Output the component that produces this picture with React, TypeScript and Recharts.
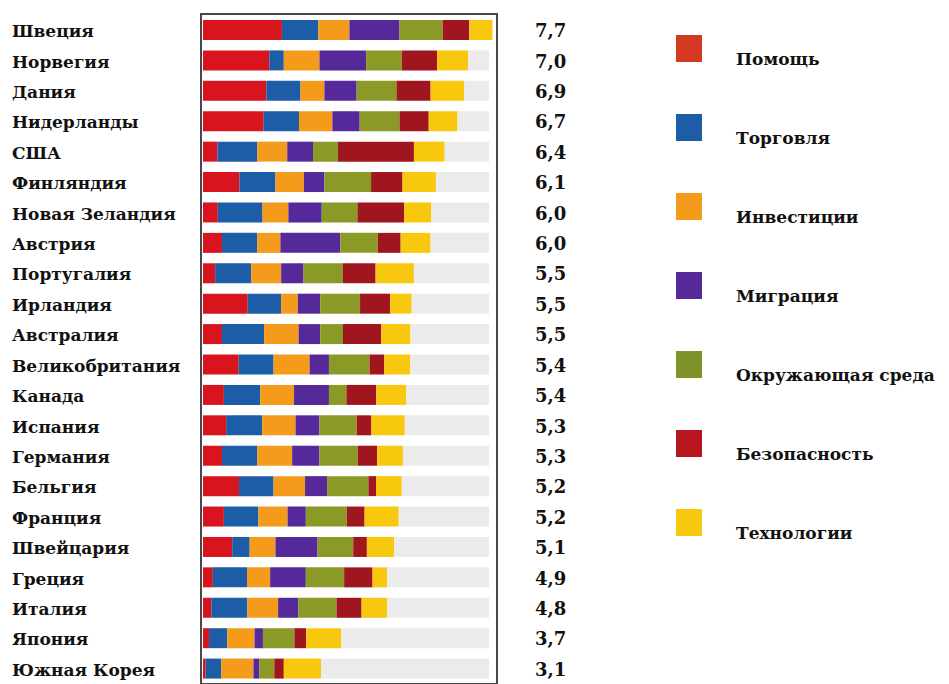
import React from "react";
import { BarChart, Bar, XAxis, YAxis } from "recharts";

const countries = ["Швеция","Норвегия","Дания","Нидерланды","США","Финляндия","Новая Зеландия","Австрия","Португалия","Ирландия","Австралия","Великобритания","Канада","Испания","Германия","Бельгия","Франция","Швейцария","Греция","Италия","Япония","Южная Корея"];
const totals = ["7,7","7,0","6,9","6,7","6,4","6,1","6,0","6,0","5,5","5,5","5,5","5,4","5,4","5,3","5,3","5,2","5,2","5,1","4,9","4,8","3,7","3,1"];
const aid = [2.08,1.75,1.67,1.60,0.38,0.96,0.39,0.50,0.32,1.18,0.50,0.94,0.55,0.61,0.50,0.95,0.55,0.77,0.26,0.22,0.16,0.07];
const trade = [0.96,0.38,0.90,0.93,1.05,0.95,1.18,0.93,0.95,0.88,1.11,0.92,0.96,0.95,0.93,0.91,0.91,0.46,0.90,0.95,0.48,0.41];
const invest = [0.82,0.94,0.63,0.88,0.79,0.75,0.68,0.61,0.79,0.44,0.91,0.95,0.89,0.88,0.92,0.83,0.77,0.68,0.61,0.81,0.72,0.85];
const migration = [1.32,1.23,0.85,0.72,0.68,0.54,0.88,1.58,0.59,0.59,0.57,0.51,0.92,0.63,0.72,0.58,0.48,1.11,0.94,0.53,0.22,0.16];
const environment = [1.14,0.94,1.05,1.05,0.66,1.23,0.94,0.99,1.04,1.05,0.60,1.07,0.46,0.98,1.01,1.09,1.08,0.94,1.01,1.01,0.83,0.39];
const security = [0.70,0.93,0.90,0.77,2.00,0.83,1.23,0.60,0.86,0.79,1.01,0.39,0.79,0.39,0.51,0.20,0.47,0.36,0.75,0.66,0.31,0.25];
const technology = [0.61,0.82,0.89,0.76,0.81,0.88,0.72,0.79,1.01,0.57,0.77,0.68,0.79,0.88,0.68,0.68,0.90,0.72,0.38,0.68,0.92,0.98];
const scaleMax = 7.54;

const series = [
  { key: "aid", name: "Помощь", color: "#d8141f", legend: "#d43a22", values: aid },
  { key: "trade", name: "Торговля", color: "#1d5ca6", legend: "#1d5ca6", values: trade },
  { key: "invest", name: "Инвестиции", color: "#f49b1c", legend: "#f49b1c", values: invest },
  { key: "migration", name: "Миграция", color: "#55299a", legend: "#55299a", values: migration },
  { key: "environment", name: "Окружающая среда", color: "#8b9a26", legend: "#7f9428", values: environment },
  { key: "security", name: "Безопасность", color: "#a0161f", legend: "#b8161f", values: security },
  { key: "technology", name: "Технологии", color: "#f8c80e", legend: "#f8c80e", values: technology },
];

const data = countries.map((name, i) => {
  const row: any = { name, total: totals[i] };
  let sum = 0;
  series.forEach((s) => {
    row[s.key] = s.values[i];
    sum += s.values[i];
  });
  row.rest = Math.max(0, scaleMax - sum);
  return row;
});

const FONT = "'DejaVu Serif', 'Liberation Serif', serif";

const Tick = (props: any) => {
  const { y, payload, index } = props;
  return (
    <g>
      <text x={12} y={y} dy={7} textAnchor="start" fontFamily={FONT} fontWeight="bold" fontSize={17} fill="#111">
        {payload.value}
      </text>
      <text x={535} y={y} dy={7} textAnchor="start" fontFamily={FONT} fontWeight="bold" fontSize={18} fill="#111">
        {totals[index]}
      </text>
    </g>
  );
};

const LegendBlock = () => (
  <div style={{ position: "absolute", left: 676, top: 35, width: 273, height: 560 }}>
    {series.map((s) => (
      <div key={s.key} style={{ position: "relative", height: 79 }}>
        <div style={{ position: "absolute", left: 0, top: 0, width: 26, height: 27, background: s.legend }} />
        <div style={{ position: "absolute", left: 60, top: 14, whiteSpace: "nowrap", fontFamily: FONT, fontWeight: "bold", fontSize: 17, color: "#111" }}>
          {s.name}
        </div>
      </div>
    ))}
  </div>
);

export default function App() {
  return (
    <div style={{ position: "absolute", left: 0, top: 0, width: 949, height: 684, background: "#fff" }}>
      <BarChart
        width={949}
        height={684}
        data={data}
        layout="vertical"
        margin={{ top: 15, right: 452, bottom: 0, left: 8 }}
        barSize={20}
      >
        <XAxis type="number" hide domain={[0, 7.75]} />
        <YAxis
          type="category"
          dataKey="name"
          width={195}
          axisLine={false}
          tickLine={false}
          interval={0}
          tick={<Tick />}
        />
        {series.map((s) => (
          <Bar key={s.key} dataKey={s.key} name={s.name} stackId="a" fill={s.color} isAnimationActive={false} />
        ))}
        <Bar dataKey="rest" stackId="a" fill="#ebebeb" legendType="none" isAnimationActive={false} />
      </BarChart>
      <LegendBlock />
      <div style={{ position: "absolute", left: 200, top: 13, width: 294, height: 668, border: "2px solid #474747", pointerEvents: "none" }} />
    </div>
  );
}
